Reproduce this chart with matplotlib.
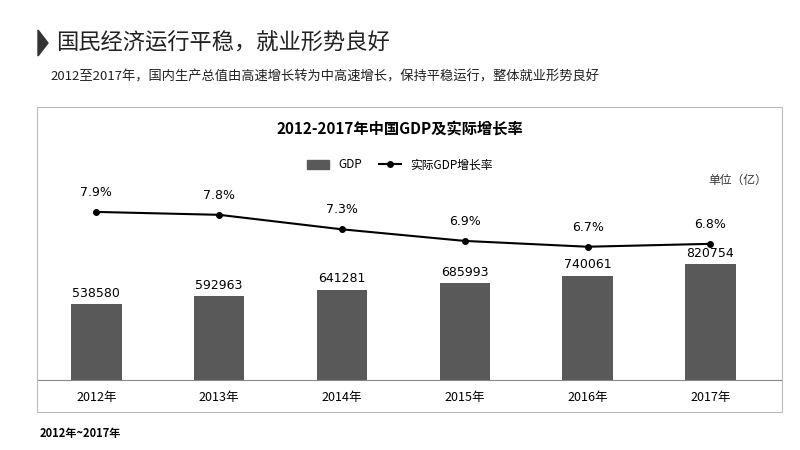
import matplotlib.pyplot as plt
from matplotlib import font_manager
from matplotlib.patches import Rectangle, Polygon
from matplotlib.lines import Line2D

names = sorted({f.name for f in font_manager.fontManager.ttflist})
cjk = [n for n in names if "Sans CJK" in n] or [n for n in names if "CJK" in n]
cjk_font = "Noto Sans CJK SC" if "Noto Sans CJK SC" in cjk else (cjk[0] if cjk else "DejaVu Sans")
plt.rcParams["font.family"] = "sans-serif"
plt.rcParams["font.sans-serif"] = [cjk_font, "DejaVu Sans"]

years = ["2012年", "2013年", "2014年", "2015年", "2016年", "2017年"]
gdp = [538580, 592963, 641281, 685993, 740061, 820754]
growth = [7.9, 7.8, 7.3, 6.9, 6.7, 6.8]
growth_labels = ["7.9%", "7.8%", "7.3%", "6.9%", "6.7%", "6.8%"]

W, H = 800, 450
fig = plt.figure(figsize=(8, 4.5), dpi=100)

def fx(px):
    return px / W

def fy(py):
    return 1 - py / H

# header
fig.patches.append(Polygon([[fx(38), fy(30)], [fx(48), fy(43)], [fx(38), fy(56)]],
                           closed=True, color="#333333", transform=fig.transFigure))
fig.text(fx(56), fy(43), "国民经济运行平稳，就业形势良好", fontsize=16, va="center", color="#222222")
fig.text(fx(50), fy(77), "2012至2017年，国内生产总值由高速增长转为中高速增长，保持平稳运行，整体就业形势良好",
         fontsize=9.5, va="center", color="#222222")
fig.patches.append(Rectangle((fx(37), fy(412)), fx(745), fy(107) - fy(412), fill=False,
                             edgecolor="#bbbbbb", lw=0.8, transform=fig.transFigure))
fig.text(fx(400), fy(129), "2012-2017年中国GDP及实际增长率", fontsize=11, fontweight="bold",
         ha="center", va="center")
fig.text(fx(738), fy(180), "单位（亿）", fontsize=8.5, ha="center", va="center", color="#333333")
fig.text(fx(40), fy(434), "2012年~2017年", fontsize=8, fontweight="bold", va="center")

ax = fig.add_axes([fx(38), fy(380), fx(743), fy(180) - fy(380)])
x = range(len(years))
ax.bar(x, gdp, width=0.41, color="#595959", label="GDP")
for i, v in zip(x, gdp):
    ax.text(i, v + 30000, str(v), ha="center", va="bottom", fontsize=9, family="DejaVu Sans")
ax.set_xlim(-0.475, 5.575)
ax.set_ylim(0, 1418000)
ax.set_xticks(list(x))
ax.set_xticklabels(years, fontsize=9)
ax.tick_params(axis="x", length=0, pad=8)
ax.set_yticks([])
for s in ["top", "left", "right"]:
    ax.spines[s].set_visible(False)
ax.spines["bottom"].set_color("#888888")

ax2 = ax.twinx()
ax2.plot(x, growth, color="black", marker="o", markersize=4, lw=1.5)
for i, v, t in zip(x, growth, growth_labels):
    ax2.text(i, v + 0.45, t, ha="center", va="bottom", fontsize=9, family="DejaVu Sans")
ax2.set_ylim(2.107, 9.0)
ax2.axis("off")

handles = [Rectangle((0, 0), 1, 1, color="#595959"),
           Line2D([], [], color="black", marker="o", markersize=4)]
fig.legend(handles, ["GDP", "实际GDP增长率"], loc="center", bbox_to_anchor=(fx(400), fy(165)),
           ncol=2, frameon=False, fontsize=8.5, handlelength=1.8, columnspacing=1.5)

fig.savefig("out.png", dpi=100)
